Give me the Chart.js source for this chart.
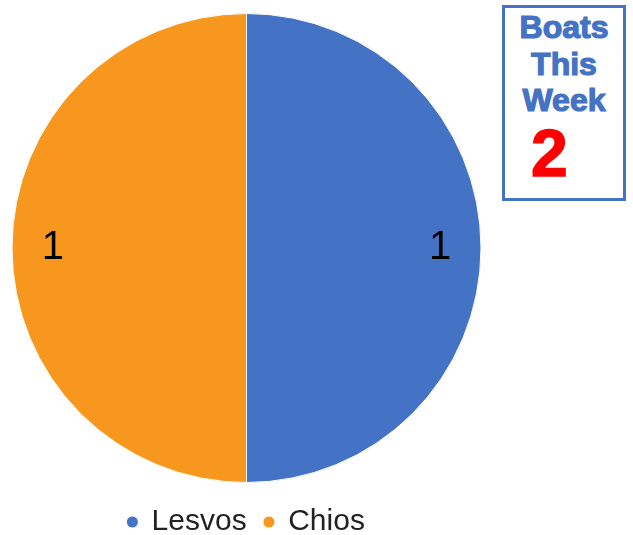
<!DOCTYPE html>
<html>
<head>
<meta charset="utf-8">
<script src="https://cdn.jsdelivr.net/npm/chart.js@4.4.0/dist/chart.umd.min.js"></script>
<style>
  html, body { margin: 0; padding: 0; background: #fff; overflow: hidden; }
  #wrap { position: relative; width: 633px; height: 535px; overflow: hidden; }
  #chartBox { position: absolute; left: 0; top: 0; width: 493px; height: 547px; }
  #badge {
    position: absolute; left: 502px; top: 5px; width: 118px; height: 190px;
    border: 3px solid #4472C4; background: #fff; box-sizing: content-box;
    font-family: "Liberation Sans", Arial, sans-serif; font-weight: bold;
  }
  #badge .t { color: #4472C4; font-size: 32px; line-height: 36.5px; text-align: center;
    -webkit-text-stroke: 1.2px #4472C4; }
  #badge .n { color: #FF0000; font-size: 66px; line-height: 66px; position: absolute; left: 26px; top: 112px;
    -webkit-text-stroke: 1.5px #FF0000; }
</style>
</head>
<body>
<div id="wrap">
  <div id="chartBox"><canvas id="c"></canvas></div>
  <div id="badge">
    <div class="t" style="margin-top:1px">Boats</div>
    <div class="t">This</div>
    <div class="t">Week</div>
    <div class="n" id="total"></div>
  </div>
</div>
<script>
const categories = ["Lesvos", "Chios"];
const boats = [1, 1];
const sliceColors = ["#4472C4", "#F7971E"];
const totalBoats = 2;

document.getElementById('total').textContent = String(totalBoats);

const sliceLabels = {
  id: 'sliceLabels',
  afterDatasetsDraw(chart) {
    const ctx = chart.ctx;
    const meta = chart.getDatasetMeta(0);
    ctx.save();
    ctx.font = '40px "Liberation Sans", Arial, sans-serif';
    ctx.fillStyle = '#000';
    ctx.textAlign = 'center';
    ctx.textBaseline = 'middle';
    meta.data.forEach((arc, i) => {
      const p = arc.getProps(['x', 'y', 'startAngle', 'endAngle', 'outerRadius'], true);
      const mid = (p.startAngle + p.endAngle) / 2;
      const r = p.outerRadius * 0.826;
      ctx.fillText(String(chart.data.datasets[0].data[i]), p.x + Math.cos(mid) * r, p.y + Math.sin(mid) * r);
    });
    ctx.restore();
  }
};

new Chart(document.getElementById('c'), {
  type: 'pie',
  data: {
    labels: categories,
    datasets: [{
      data: boats,
      backgroundColor: sliceColors,
      borderColor: '#ffffff',
      borderWidth: 1
    }]
  },
  options: {
    responsive: true,
    maintainAspectRatio: false,
    animation: false,
    layout: { padding: { top: 13, bottom: 0, left: 0, right: 0 } },
    plugins: {
      tooltip: { enabled: false },
      legend: {
        position: 'bottom',
        title: { display: true, text: '', font: { size: 1, lineHeight: 1 }, padding: { top: 0, bottom: 5 } },
        labels: {
          usePointStyle: true,
          pointStyle: 'circle',
          boxWidth: 8.5,
          boxHeight: 8.5,
          padding: 18,
          color: '#222',
          font: { family: '"Liberation Sans", Arial, sans-serif', size: 30, lineHeight: 1 }
        }
      }
    }
  },
  plugins: [sliceLabels]
});
</script>
</body>
</html>
